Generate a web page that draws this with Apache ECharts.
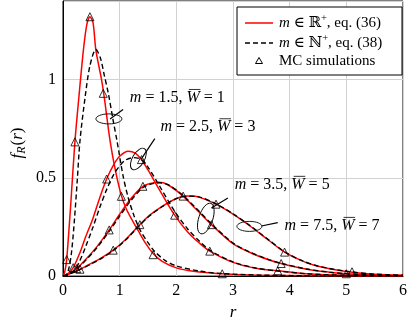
<!DOCTYPE html>
<html><head><meta charset="utf-8">
<script src="https://cdn.jsdelivr.net/npm/echarts@6/dist/echarts.min.js"></script>
<style>html,body{margin:0;padding:0;background:#fff}#c{width:415px;height:326px}</style>
</head><body><div id="c"></div>
<script>
// ---- data ----
const xTicks = [0, 1, 2, 3, 4, 5, 6];
const yTicks = [0, 0.5, 1];
// red solid curves (m in R+, eq. 36): [r, f_R(r)]
const redM15 = [[0,0],[0.03,0.02],[0.065,0.084],[0.14,0.38],[0.21,0.683],[0.28,0.91],[0.36,1.15],[0.42,1.28],[0.475,1.32],[0.53,1.29],[0.58,1.15],[0.68,1.0],[0.73,0.906],[0.83,0.69],[0.93,0.53],[1.03,0.41],[1.12,0.34],[1.23,0.28],[1.33,0.23],[1.45,0.17],[1.59,0.115],[1.75,0.075],[2.0,0.042],[2.3,0.025],[2.8,0.012],[3.3,0.006],[4.0,0.003],[5.0,0.001],[6.0,0]];
const redM25 = [[0,0],[0.1,0.015],[0.18,0.043],[0.3,0.12],[0.4,0.2],[0.53,0.295],[0.65,0.4],[0.77,0.494],[0.9,0.57],[1.0,0.61],[1.15,0.635],[1.28,0.625],[1.385,0.593],[1.5,0.54],[1.7,0.44],[1.97,0.31],[2.2,0.225],[2.4,0.17],[2.59,0.127],[3.0,0.07],[3.4,0.04],[3.79,0.027],[4.3,0.012],[5.0,0.004],[6.0,0.001]];
const redM35 = [[0,0],[0.1,0.01],[0.24,0.038],[0.4,0.085],[0.6,0.15],[0.815,0.235],[1.0,0.315],[1.2,0.395],[1.41,0.457],[1.55,0.472],[1.68,0.477],[1.85,0.465],[2.12,0.407],[2.35,0.34],[2.62,0.262],[3.0,0.165],[3.3,0.12],[3.64,0.082],[3.85,0.064],[4.3,0.035],[4.7,0.02],[5.0,0.012],[5.5,0.006],[6.0,0.003]];
const redM75 = [[0,0],[0.1,0.01],[0.3,0.035],[0.5,0.065],[0.7,0.097],[0.886,0.132],[1.1,0.185],[1.356,0.262],[1.53,0.31],[1.75,0.355],[2.0,0.395],[2.2,0.407],[2.4,0.402],[2.7,0.366],[3.0,0.315],[3.3,0.255],[3.64,0.18],[3.91,0.122],[4.2,0.08],[4.5,0.05],[5.0,0.024],[5.5,0.01],[6.0,0.004]];
// black dashed curves (m in N+, eq. 38)
const blkM15 = [[0,0],[0.05,0.003],[0.1,0.035],[0.15,0.12],[0.2,0.28],[0.25,0.48],[0.3,0.69],[0.39,0.91],[0.475,1.07],[0.58,1.153],[0.66,1.11],[0.73,1.02],[0.8,0.93],[0.88,0.8],[0.956,0.683],[1.06,0.51],[1.15,0.4],[1.25,0.31],[1.36,0.235],[1.5,0.17],[1.62,0.125],[1.8,0.08],[2.0,0.052],[2.4,0.026],[2.8,0.013],[3.5,0.005],[4.5,0.001],[6.0,0]];
const blkM25 = [[0,0],[0.2,0.03],[0.3,0.08],[0.4,0.15],[0.53,0.25],[0.65,0.35],[0.77,0.44],[0.9,0.52],[1.0,0.56],[1.1,0.59],[1.25,0.603],[1.385,0.593],[1.5,0.555],[1.7,0.46],[1.97,0.33],[2.2,0.24],[2.4,0.18],[2.59,0.132],[3.0,0.072],[3.4,0.041],[3.79,0.026],[4.3,0.012],[5.0,0.004],[6.0,0.001]];
const blkM35 = [[0,0],[0.1,0.008],[0.24,0.036],[0.4,0.08],[0.6,0.145],[0.815,0.228],[1.0,0.305],[1.2,0.385],[1.41,0.45],[1.55,0.468],[1.7,0.475],[1.87,0.463],[2.12,0.41],[2.35,0.345],[2.62,0.266],[3.0,0.168],[3.3,0.122],[3.64,0.083],[3.85,0.065],[4.3,0.036],[4.7,0.02],[5.0,0.012],[5.5,0.006],[6.0,0.003]];
const blkM75 = [[0,0],[0.1,0.009],[0.3,0.033],[0.5,0.062],[0.7,0.094],[0.886,0.13],[1.1,0.182],[1.356,0.259],[1.53,0.307],[1.75,0.353],[2.0,0.394],[2.2,0.407],[2.4,0.403],[2.7,0.368],[3.0,0.317],[3.3,0.257],[3.64,0.182],[3.91,0.124],[4.2,0.081],[4.5,0.051],[5.0,0.025],[5.5,0.01],[6.0,0.004]];
// MC simulation markers
const mcR = [0.065,0.21,0.475,0.71,1.03,1.59,2.81, 0.18,0.77,1.385,1.97,2.59,3.79, 0.24,0.815,1.41,2.12,2.62,3.85,5.0, 0.3,0.886,1.356,2.7,3.91,5.1];
const mcV = [0.084,0.683,1.32,0.93,0.406,0.109,0.012, 0.043,0.494,0.593,0.31,0.127,0.027, 0.038,0.235,0.457,0.407,0.262,0.064,0.012, 0.035,0.132,0.262,0.366,0.122,0.022];
const legendNames = ['eq. (36)', 'eq. (38)', 'MC simulations'];

// ---- chart ----
const FF = '"Liberation Serif", "DejaVu Serif", serif';
const chart = echarts.init(document.getElementById('c'), null, {renderer: 'canvas'});
function ln(data, dashed) {
  return {type: 'line', data: data, symbol: 'none', showSymbol: false, smooth: 0.3,
    silent: true, animation: false, z: dashed ? 3 : 2,
    lineStyle: {color: dashed ? '#000' : '#ff0000', width: dashed ? 1.4 : 1.5, type: dashed ? [5, 3] : 'solid'}};
}
const series = [redM15, redM25, redM35, redM75].map(d => ln(d, false))
  .concat([blkM15, blkM25, blkM35, blkM75].map(d => ln(d, true)));
series.push({type: 'scatter', data: mcR.map((r, i) => [r, mcV[i]]), symbol: 'triangle', symbolSize: 8,
  z: 4, silent: true, animation: false,
  itemStyle: {color: 'rgba(255,255,255,0)', borderColor: '#000', borderWidth: 1}});

chart.setOption({
  animation: false,
  grid: {left: 63, right: 12, top: 1, bottom: 43, show: true, borderColor: '#000', borderWidth: 1},
  xAxis: {type: 'value', min: xTicks[0], max: xTicks[xTicks.length - 1], interval: 1,
    name: 'r', nameLocation: 'middle', nameGap: 25,
    nameTextStyle: {fontFamily: FF, fontStyle: 'italic', fontSize: 17, color: '#000'},
    axisLine: {lineStyle: {color: '#000', width: 1}}, axisTick: {show: false},
    axisLabel: {fontFamily: FF, fontSize: 16, color: '#000', margin: 7},
    splitLine: {lineStyle: {color: '#d2d2d2', width: 1}}},
  yAxis: {type: 'value', min: 0, max: 1.4, interval: 0.5,
    axisLine: {show: true, lineStyle: {color: '#000', width: 1}}, axisTick: {show: false},
    axisLabel: {fontFamily: FF, fontSize: 16, color: '#000', margin: 7,
      formatter: v => yTicks.some(t => Math.abs(t - v) < 1e-9) ? String(v) : ''},
    splitLine: {lineStyle: {color: '#d2d2d2', width: 1}}},
  series: series
});

// ---- annotations & legend (graphic) ----
const mctx = document.createElement('canvas').getContext('2d');
function tw(t, fs, it) { mctx.font = (it ? 'italic ' : '') + fs + 'px ' + FF; return mctx.measureText(t).width; }
function richLine(x, y, parts, fs) {
  const els = []; let cx = x;
  parts.forEach(p => {
    const f = p.sup ? fs * 0.7 : fs;
    const w = tw(p.t, f, p.it);
    els.push({type: 'text', x: cx, y: p.sup ? y - fs * 0.33 : y, silent: true, z: 10,
      style: {text: p.t, fontFamily: FF, fontSize: f, fontStyle: p.it ? 'italic' : 'normal', fill: '#000',
        align: 'left', verticalAlign: 'middle'}});
    if (p.bar) els.push({type: 'line', silent: true, z: 10,
      shape: {x1: cx + w * 0.18, y1: y - fs * 0.5, x2: cx + w * 1.05, y2: y - fs * 0.5},
      style: {stroke: '#000', lineWidth: 0.8}});
    cx += w;
  });
  return els;
}
const P = (r, v) => chart.convertToPixel({gridIndex: 0}, [r, v]);
const g = [];
function ann(label, wbar, tr, tv, er, ev, erx, ery, rot, l1, l2) {
  const t = P(tr, tv);
  g.push(...richLine(t[0], t[1], [{t: 'm', it: true}, {t: ' = ' + label + ', '}, {t: 'W', it: true, bar: true}, {t: ' = ' + wbar}], 16));
  const e = P(er, ev);
  g.push({type: 'ellipse', silent: true, z: 9, x: e[0], y: e[1], rotation: rot,
    shape: {cx: 0, cy: 0, rx: erx, ry: ery}, style: {fill: 'none', stroke: '#000', lineWidth: 0.9}});
  const a = P(l1[0], l1[1]), b = P(l2[0], l2[1]);
  g.push({type: 'line', silent: true, z: 9, shape: {x1: a[0], y1: a[1], x2: b[0], y2: b[1]}, style: {stroke: '#000', lineWidth: 1.2}});
}
ann('1.5', '1', 1.18, 0.909, 0.81, 0.80, 13, 5, 0, [0.83, 0.80], [1.06, 0.848]);
ann('2.5', '3', 1.72, 0.76, 1.33, 0.596, 12, 6, Math.PI / 3, [1.38, 0.595], [1.62, 0.70]);
ann('3.5', '5', 3.03, 0.467, 2.52, 0.293, 16, 7, 1.25, [2.62, 0.347], [2.91, 0.398]);
ann('7.5', '7', 3.91, 0.258, 3.29, 0.253, 12.5, 5, 0, [3.5, 0.255], [3.79, 0.272]);

// legend box
const LX = 237, LY = 7, LW = 165, LH = 68;
g.push({type: 'rect', silent: true, z: 11, shape: {x: LX, y: LY, width: LW, height: LH},
  style: {fill: '#fff', stroke: '#000', lineWidth: 1}});
const rows = [23, 43, 61];
g.push({type: 'line', silent: true, z: 12, shape: {x1: 245, y1: rows[0], x2: 273, y2: rows[0]}, style: {stroke: '#ff0000', lineWidth: 1.5}});
g.push({type: 'line', silent: true, z: 12, shape: {x1: 245, y1: rows[1], x2: 273, y2: rows[1]}, style: {stroke: '#000', lineWidth: 1.4, lineDash: [5, 3]}});
g.push({type: 'polygon', silent: true, z: 12, shape: {points: [[259, rows[2] - 3.5], [262.5, rows[2] + 2.5], [255.5, rows[2] + 2.5]]}, style: {fill: 'none', stroke: '#000', lineWidth: 1}});
const LF = 15;
g.push(...richLine(279, rows[0], [{t: 'm', it: true}, {t: ' ∈ ℝ'}, {t: '+', sup: true}, {t: ', ' + legendNames[0]}], LF).map(e => (e.z = 12, e)));
g.push(...richLine(279, rows[1], [{t: 'm', it: true}, {t: ' ∈ ℕ'}, {t: '+', sup: true}, {t: ', ' + legendNames[1]}], LF).map(e => (e.z = 12, e)));
g.push(...richLine(279, rows[2], [{t: legendNames[2]}], LF).map(e => (e.z = 12, e)));

// y axis title f_R(r)
g.push({type: 'text', silent: true, x: 18, y: 143, rotation: Math.PI / 2,
  style: {text: '{i|f}{s|R}{n|(}{i|r}{n|)}', align: 'center', verticalAlign: 'middle', fill: '#000',
    rich: {i: {fontFamily: FF, fontStyle: 'italic', fontSize: 17, lineHeight: 20},
      n: {fontFamily: FF, fontSize: 17, lineHeight: 20},
      s: {fontFamily: FF, fontStyle: 'italic', fontSize: 12, lineHeight: 20, verticalAlign: 'bottom', padding: [6, 1, 0, 0]}}}});

chart.setOption({graphic: g});
</script></body></html>
